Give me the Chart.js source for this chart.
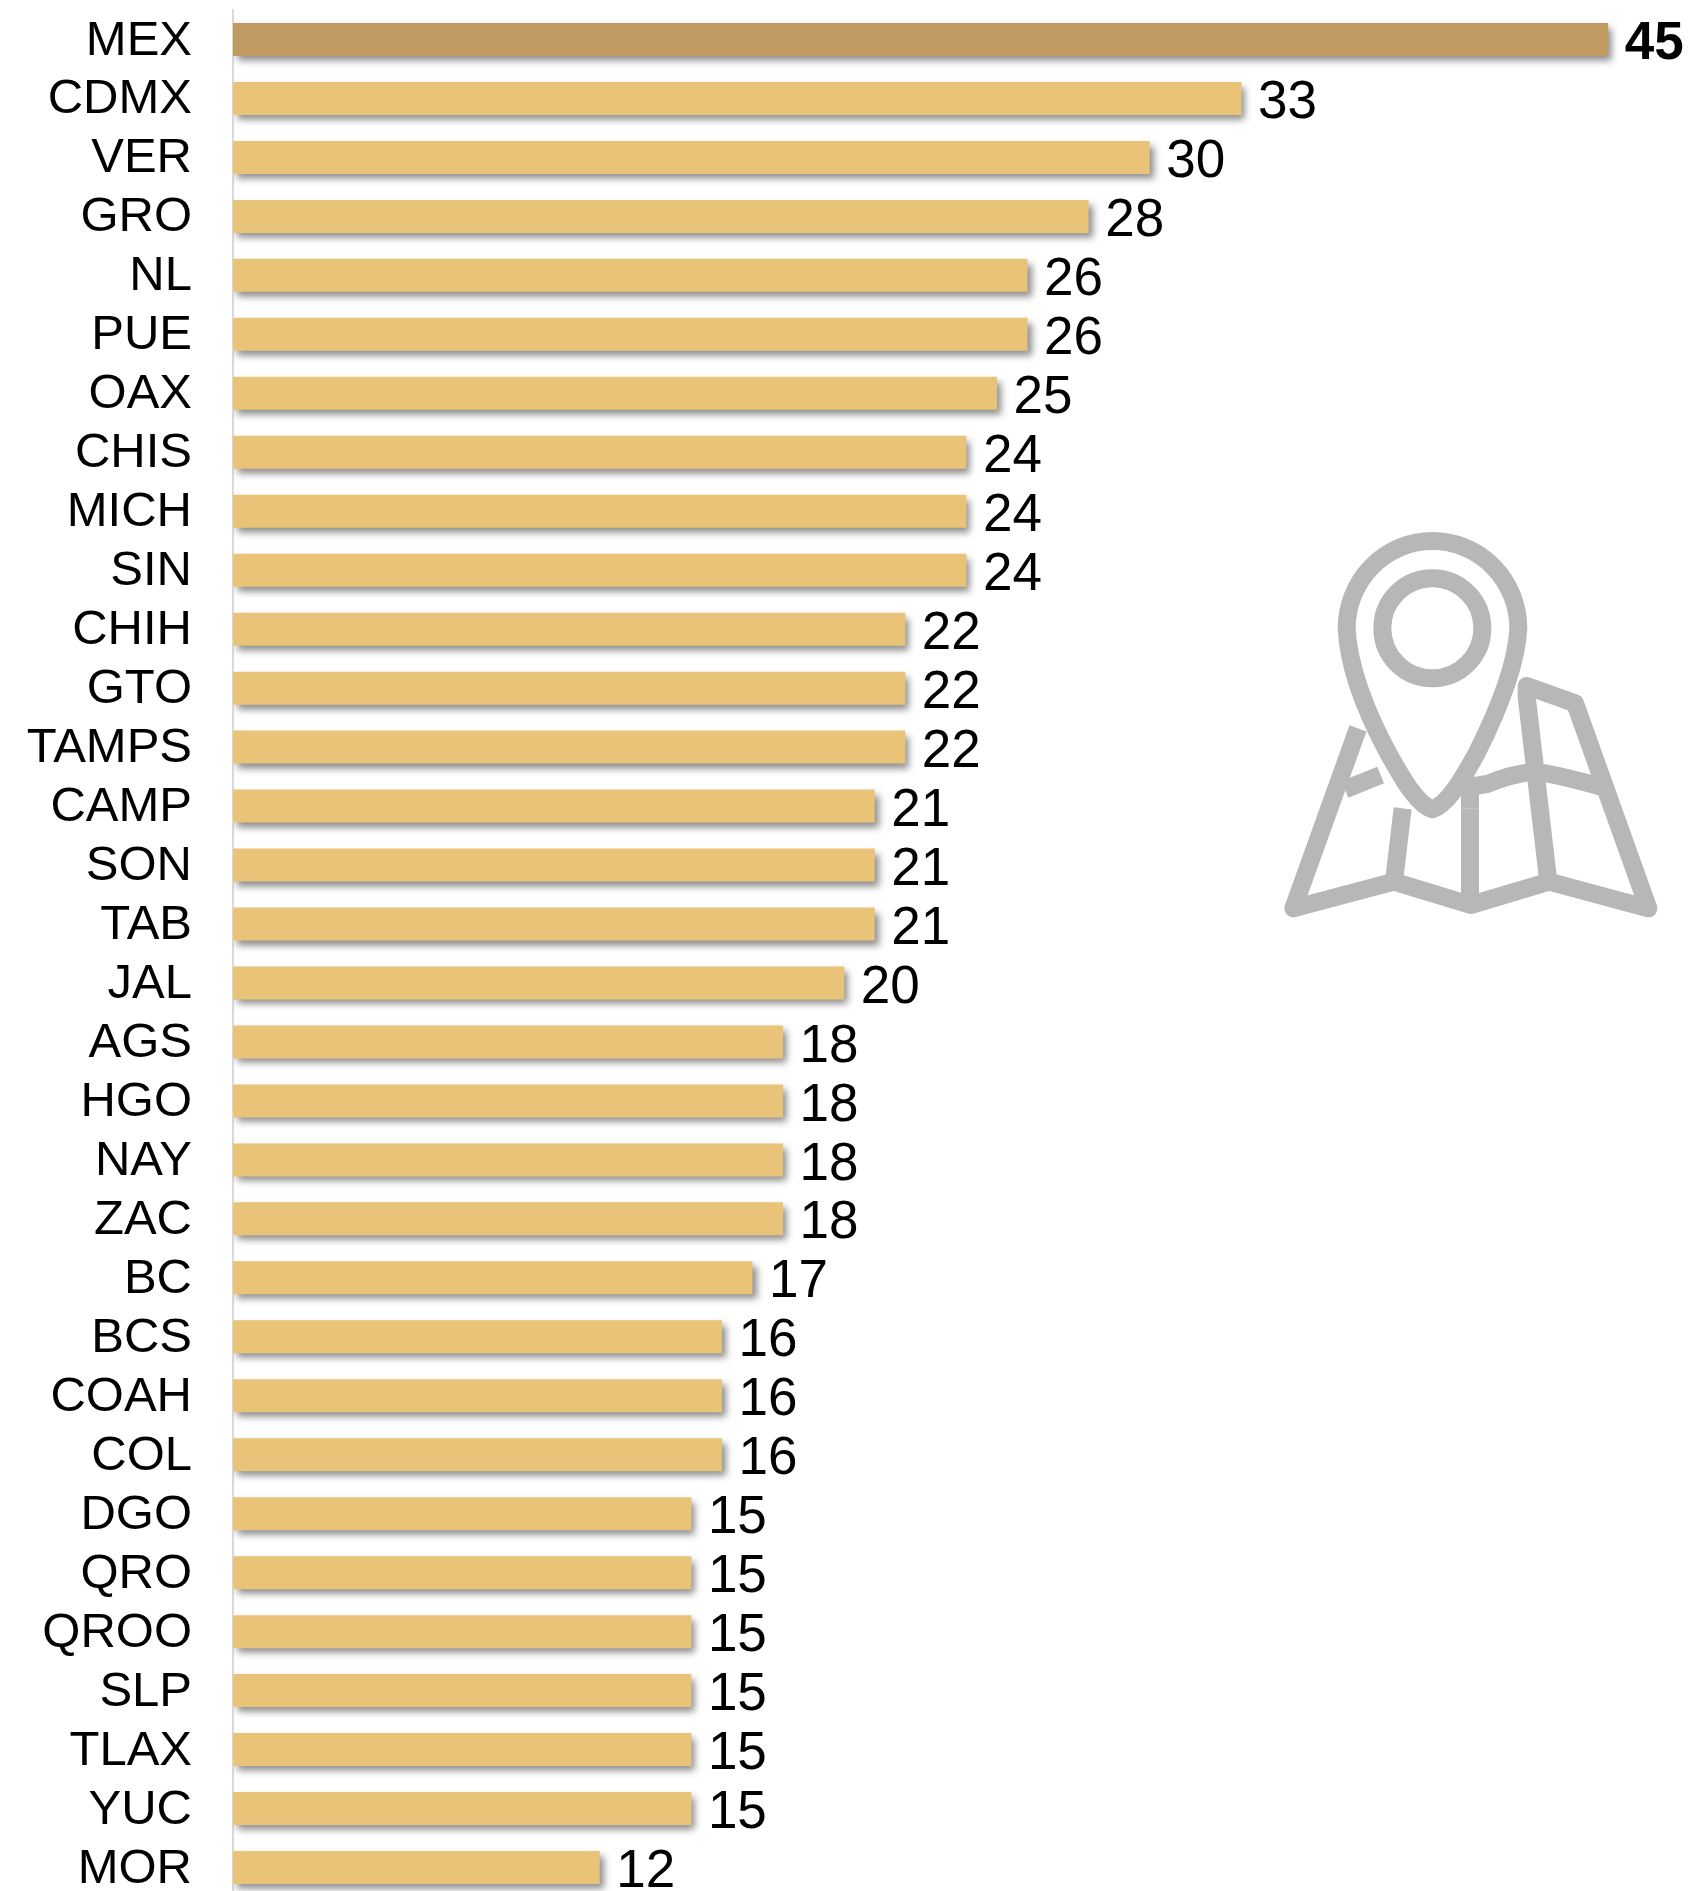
<!DOCTYPE html>
<html>
<head>
<meta charset="utf-8">
<script src="https://cdn.jsdelivr.net/npm/chart.js@4"></script>
<style>
html,body{margin:0;padding:0;background:#fff;overflow:hidden;width:1691px;height:1891px}
#wrap{position:relative;width:1691px;height:1891px;overflow:hidden}
canvas{position:absolute;left:0;top:0}
svg{position:absolute;left:1250px;top:500px}
</style>
</head>
<body>
<div id="wrap">
<canvas id="c" width="1691" height="1900"></canvas>
<svg width="441" height="450" viewBox="0 0 1323 1350" fill="none" stroke="#b7b7b7" stroke-width="54" stroke-linejoin="round">
  <path d="M290 385 A257.5 262 0 0 1 805 385 C800 500 740 640 680 760 C630 850 590 915 547 928 C505 915 465 850 415 760 C350 640 295 500 290 385 Z"/>
  <circle cx="547" cy="385" r="150"/>
  <path d="M324 685 L130 1225 L432 1145 L662 1215 L897 1145 L1195 1225 L975 610 L830 558 L830 590 L895 1145"/>
  <path d="M458 925 L432 1145"/>
  <path d="M660 925 L660 1215"/>
  <path d="M285 868 L392 825"/>
  <path d="M660 925 L660 860 L712 852 C760 832 810 820 850 815 C900 820 980 840 1060 862"/>
</svg>
</div>
<script>
const categories = ["MEX","CDMX","VER","GRO","NL","PUE","OAX","CHIS","MICH","SIN","CHIH","GTO","TAMPS","CAMP","SON","TAB","JAL","AGS","HGO","NAY","ZAC","BC","BCS","COAH","COL","DGO","QRO","QROO","SLP","TLAX","YUC","MOR"];
const values = [45,33,30,28,26,26,25,24,24,24,22,22,22,21,21,21,20,18,18,18,18,17,16,16,16,15,15,15,15,15,15,12];
const highlightColor = "#c09a60";
const barColor = "#e9c378";
const barColors = values.map((v,i)=> i===0 ? highlightColor : barColor);

const shadowPlugin = {
  id:'shadow',
  beforeDatasetDraw(chart){
    const ctx = chart.ctx;
    ctx.save();
    ctx.shadowColor = 'rgba(70,70,70,0.62)';
    ctx.shadowBlur = 7;
    ctx.shadowOffsetX = 4;
    ctx.shadowOffsetY = 5;
  },
  afterDatasetDraw(chart){ chart.ctx.restore(); }
};
const valueLabels = {
  id:'valueLabels',
  afterDatasetsDraw(chart){
    const ctx = chart.ctx;
    const meta = chart.getDatasetMeta(0);
    ctx.save();
    ctx.fillStyle = '#000';
    ctx.textBaseline = 'middle';
    ctx.textAlign = 'left';
    meta.data.forEach((bar,i)=>{
      ctx.font = (i===0?'bold ':'') + '53px "Liberation Sans", Arial, sans-serif';
      ctx.fillText(String(values[i]), bar.x + 16.5, bar.y + 5);
    });
    ctx.restore();
  }
};
new Chart(document.getElementById('c'),{
  type:'bar',
  data:{labels:categories,datasets:[{data:values,backgroundColor:barColors,borderWidth:0,categoryPercentage:1,barPercentage:0.56}]},
  options:{
    indexAxis:'y',responsive:false,animation:false,
    layout:{autoPadding:false,padding:{left:0,right:0,top:10,bottom:3}},
    plugins:{legend:{display:false},tooltip:{enabled:false}},
    scales:{
      x:{min:0,max:47.71,display:false,grid:{display:false}},
      y:{
        afterFit(s){s.width=233;s.paddingTop=0;s.paddingBottom=0;},
        grid:{display:false,drawTicks:false},
        border:{display:true,color:'#d9d9d9',width:2},
        ticks:{color:'#000',padding:41,labelOffset:1.5,autoSkip:false,font:{family:'"Liberation Sans", Arial, sans-serif',size:49}}
      }
    }
  },
  plugins:[shadowPlugin,valueLabels]
});
</script>
</body>
</html>
